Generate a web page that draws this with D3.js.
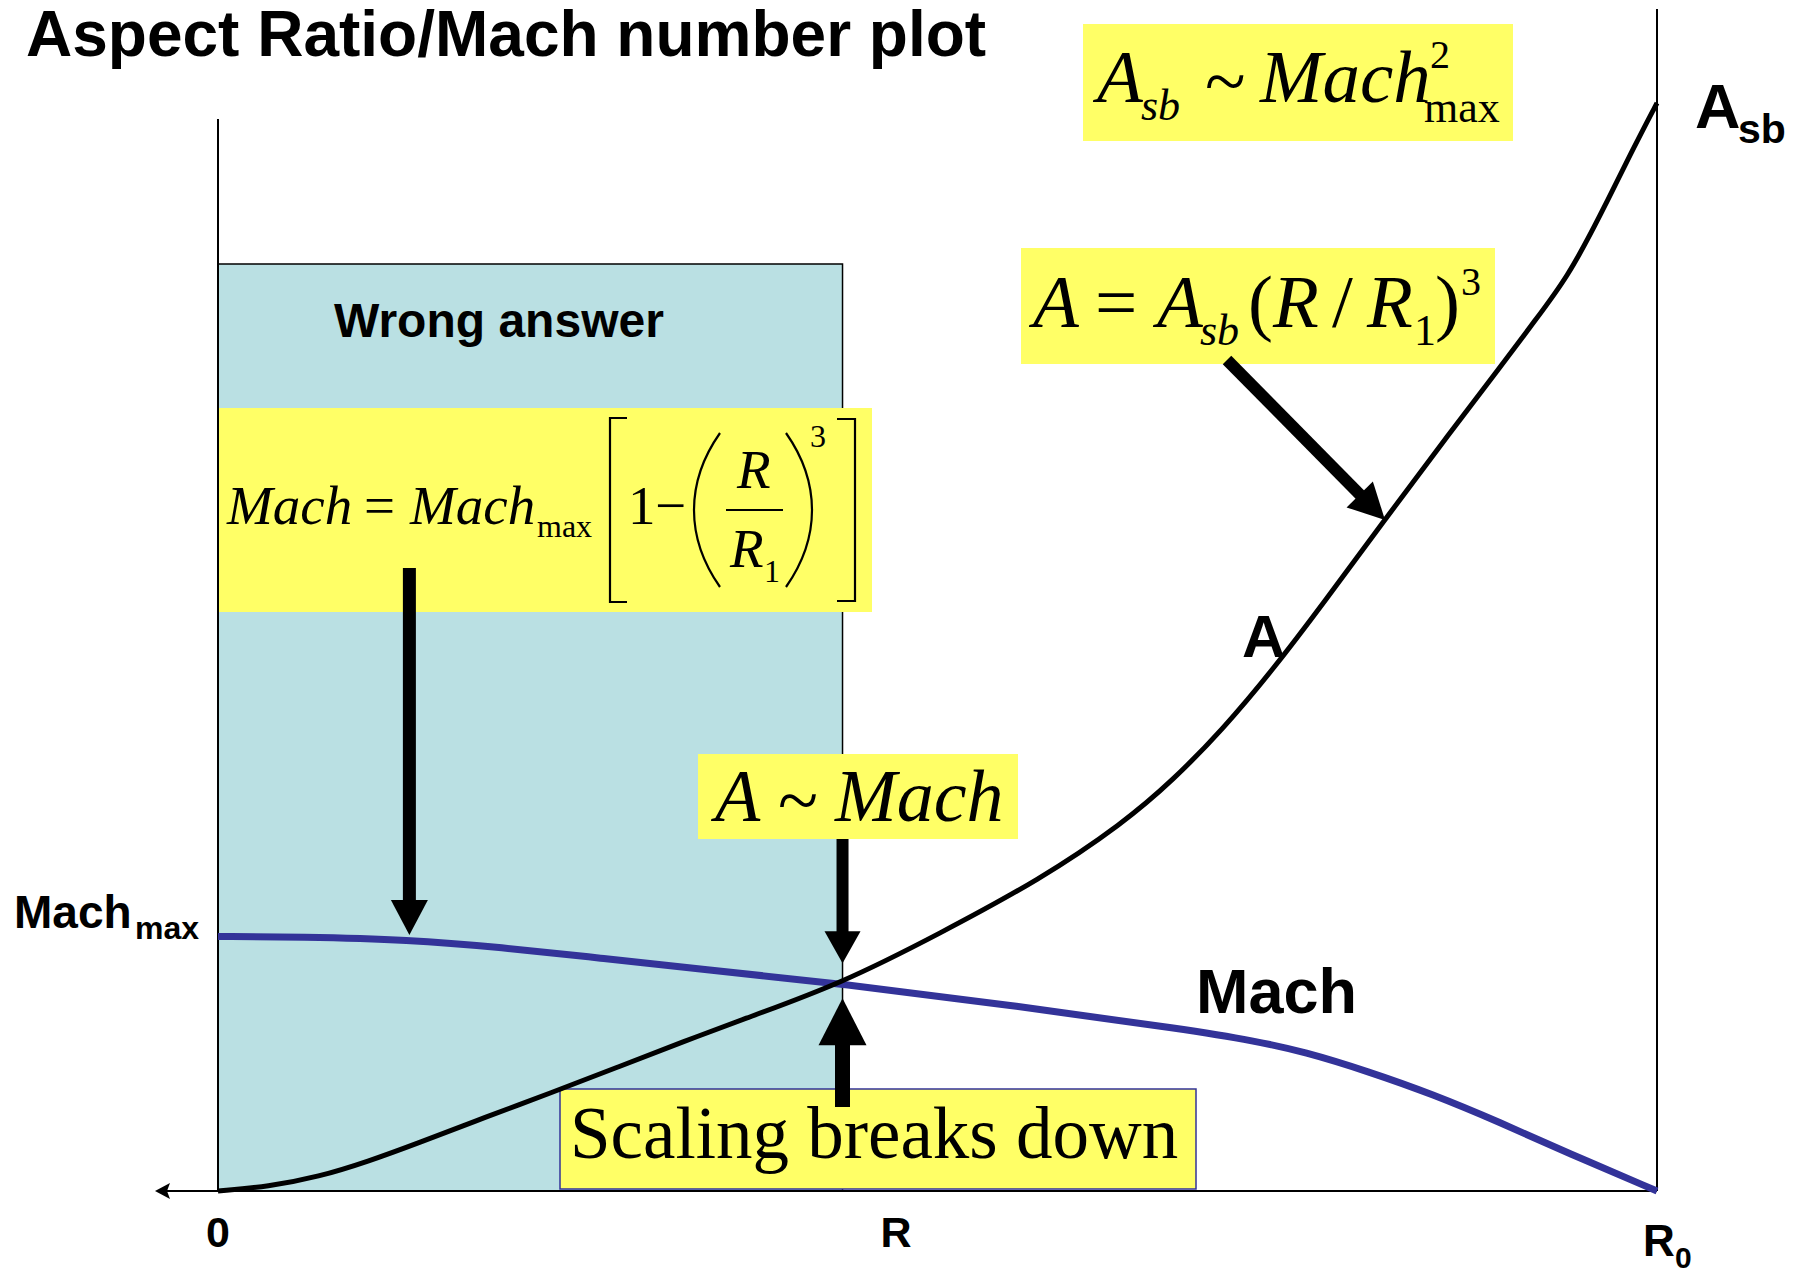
<!DOCTYPE html>
<html>
<head>
<meta charset="utf-8">
<script src="https://cdn.jsdelivr.net/npm/d3@7"></script>
<style>
  html, body { margin: 0; padding: 0; background: #fff; }
  svg { display: block; }
</style>
</head>
<body>
<div id="chart"></div>
<script>
// r / R0 along the horizontal axis, values normalised to A_sb = 1
const aspectR = [0, 0.035, 0.070, 0.104, 0.139, 0.186, 0.231, 0.278, 0.325, 0.361, 0.434, 0.502, 0.571,
                 0.629, 0.664, 0.698, 0.733, 0.768, 0.812, 0.856, 0.891, 0.914, 0.938, 0.960, 0.983, 1.0];
const aspectValues = [0, 0.004, 0.013, 0.027, 0.044, 0.068, 0.090, 0.114, 0.138, 0.156, 0.191, 0.237, 0.286,
                      0.338, 0.378, 0.424, 0.479, 0.540, 0.619, 0.697, 0.757, 0.798, 0.840, 0.895, 0.957, 1.0];

const machR = [0, 0.057, 0.133, 0.196, 0.266, 0.335, 0.434, 0.555, 0.675, 0.720, 0.755, 0.799, 0.844, 0.891, 0.938, 1.0];
const machValues = [0.234, 0.2335, 0.231, 0.224, 0.214, 0.204, 0.1905, 0.170, 0.148, 0.138, 0.128, 0.110, 0.089, 0.063, 0.035, 0];

const rCross = 0.434;           // "R", where scaling breaks down
const tickValues = [0, rCross, 1];
const tickLabels = ["0", "R", "R0"];

const W = 1808, H = 1269;
const SANS = "'Liberation Sans', Arial, sans-serif";
const SERIF = "'Liberation Serif', 'Times New Roman', serif";
const YELLOW = "#ffff66";
const CYAN = "#bae0e3";
const BLUE = "#333399";

const svg = d3.select('#chart').append('svg')
    .attr('width', W)
    .attr('height', H);

const x = d3.scaleLinear().domain([0, 1]).range([218, 1657]);
const y = d3.scaleLinear().domain([0, 1]).range([1191, 103]);

function put(g, px, py, str, size, opts) {
    opts = opts || {};
    return g.append('text')
        .attr('x', px)
        .attr('y', py)
        .attr('font-family', opts.serif ? SERIF : SANS)
        .attr('font-size', size)
        .attr('font-weight', opts.bold ? 'bold' : 'normal')
        .attr('font-style', opts.italic ? 'italic' : 'normal')
        .attr('text-anchor', opts.anchor || 'start')
        .attr('fill', '#000')
        .text(str);
}

function arrow(x1, y1, x2, y2, shaftW, headLen, headW) {
    const dx = x2 - x1, dy = y2 - y1;
    const len = Math.hypot(dx, dy);
    const ux = dx / len, uy = dy / len;
    const bx = x2 - ux * headLen, by = y2 - uy * headLen;
    svg.append('line')
        .attr('x1', x1).attr('y1', y1)
        .attr('x2', bx + ux).attr('y2', by + uy)
        .attr('stroke', '#000')
        .attr('stroke-width', shaftW);
    const px = -uy * headW / 2, py = ux * headW / 2;
    svg.append('polygon')
        .attr('points', [[x2, y2], [bx + px, by + py], [bx - px, by - py]].map(p => p.join(',')).join(' '))
        .attr('fill', '#000');
}

// title
put(svg, 26, 56, 'Aspect Ratio/Mach number plot', 64, {bold: true});

// "wrong answer" region
svg.append('rect')
    .attr('x', x(0))
    .attr('y', 264)
    .attr('width', x(rCross) - x(0))
    .attr('height', y(0) - 264)
    .attr('fill', CYAN)
    .attr('stroke', '#000')
    .attr('stroke-width', 1.5);

put(svg, 334, 337, 'Wrong answer', 48, {bold: true});

// axes
svg.append('line')
    .attr('x1', x(0)).attr('y1', 119)
    .attr('x2', x(0)).attr('y2', y(0))
    .attr('stroke', '#000').attr('stroke-width', 2);
svg.append('line')
    .attr('x1', x(1)).attr('y1', 9)
    .attr('x2', x(1)).attr('y2', y(0))
    .attr('stroke', '#000').attr('stroke-width', 2);

// yellow formula boxes
const boxes = [
    {x: 219, y: 408, w: 653, h: 204},
    {x: 1083, y: 24, w: 430, h: 117},
    {x: 1021, y: 248, w: 474, h: 116},
    {x: 698, y: 754, w: 320, h: 85}
];
svg.selectAll('rect.note')
    .data(boxes)
    .enter().append('rect')
    .attr('class', 'note')
    .attr('x', d => d.x).attr('y', d => d.y)
    .attr('width', d => d.w).attr('height', d => d.h)
    .attr('fill', YELLOW);

// "Scaling breaks down" box
svg.append('rect')
    .attr('x', 560).attr('y', 1089)
    .attr('width', 636).attr('height', 100)
    .attr('fill', YELLOW)
    .attr('stroke', BLUE)
    .attr('stroke-width', 1.5);
put(svg, 570, 1158, 'Scaling breaks down', 73, {serif: true});

// bottom axis with arrow pointing left
svg.append('line')
    .attr('x1', x(1)).attr('y1', y(0))
    .attr('x2', x(0) - 55).attr('y2', y(0))
    .attr('stroke', '#000').attr('stroke-width', 2);
svg.append('polygon')
    .attr('points', `${x(0) - 63},${y(0)} ${x(0) - 48},${y(0) - 8} ${x(0) - 51},${y(0)} ${x(0) - 48},${y(0) + 8}`)
    .attr('fill', '#000');

// curves
const line = d3.line()
    .x(d => x(d[0]))
    .y(d => y(d[1]))
    .curve(d3.curveBasis);

svg.append('path')
    .datum(d3.zip(machR, machValues))
    .attr('d', line)
    .attr('fill', 'none')
    .attr('stroke', BLUE)
    .attr('stroke-width', 7);

svg.append('path')
    .datum(d3.zip(aspectR, aspectValues))
    .attr('d', line)
    .attr('fill', 'none')
    .attr('stroke', '#000')
    .attr('stroke-width', 5);

// Mach = Mach_max [1 - (R/R1)^3]
put(svg, 227, 524, 'Mach', 55, {serif: true, italic: true});
put(svg, 364, 524, '=', 55, {serif: true});
put(svg, 410, 524, 'Mach', 55, {serif: true, italic: true});
put(svg, 537, 537, 'max', 32, {serif: true});
put(svg, 628, 524, '1', 55, {serif: true});
put(svg, 655, 524, '\u2212', 55, {serif: true});
put(svg, 737, 488, 'R', 55, {serif: true, italic: true});
put(svg, 730, 567, 'R', 55, {serif: true, italic: true});
put(svg, 764, 582, '1', 32, {serif: true});
put(svg, 810, 447, '3', 32, {serif: true});
svg.append('line')
    .attr('x1', 726).attr('y1', 510).attr('x2', 783).attr('y2', 510)
    .attr('stroke', '#000').attr('stroke-width', 2);
const bracketPaths = [
    'M627,418 H610 V602 H627',
    'M837,419 H855 V601 H837',
    'M720,433 Q694,470 694,510 Q694,550 720,587',
    'M786,433 Q812,470 812,510 Q812,550 786,587'
];
svg.selectAll('path.bracket')
    .data(bracketPaths)
    .enter().append('path')
    .attr('class', 'bracket')
    .attr('d', d => d)
    .attr('fill', 'none')
    .attr('stroke', '#000')
    .attr('stroke-width', 2.2);

// A_sb ~ Mach_max^2
put(svg, 1097, 102, 'A', 75, {serif: true, italic: true});
put(svg, 1141, 120, 'sb', 44, {serif: true, italic: true});
put(svg, 1205, 106, '~', 75, {serif: true});
put(svg, 1260, 102, 'Mach', 75, {serif: true, italic: true});
put(svg, 1430, 68, '2', 40, {serif: true});
put(svg, 1424, 122, 'max', 44, {serif: true});

// A = A_sb (R / R1)^3
put(svg, 1033, 327, 'A', 75, {serif: true, italic: true});
put(svg, 1095, 327, '=', 75, {serif: true});
put(svg, 1157, 327, 'A', 75, {serif: true, italic: true});
put(svg, 1200, 345, 'sb', 44, {serif: true, italic: true});
put(svg, 1248, 327, '(', 75, {serif: true});
put(svg, 1273, 327, 'R', 75, {serif: true, italic: true});
put(svg, 1332, 327, '/', 75, {serif: true});
put(svg, 1367, 327, 'R', 75, {serif: true, italic: true});
put(svg, 1414, 345, '1', 44, {serif: true});
put(svg, 1435, 327, ')', 75, {serif: true});
put(svg, 1461, 295, '3', 40, {serif: true});

// A ~ Mach
put(svg, 715, 821, 'A', 74, {serif: true, italic: true});
put(svg, 778, 825, '~', 74, {serif: true});
put(svg, 835, 821, 'Mach', 74, {serif: true, italic: true});

// arrows
const crossY = y(0.190);
arrow(x(0.133), 568, x(0.133), 935, 13, 35, 37);
arrow(x(rCross), 839, x(rCross), crossY - 21, 12, 32, 36);
arrow(x(rCross), 1107, x(rCross), crossY + 14, 15, 47, 48);
arrow(1227, 360, 1385, 520, 12, 36, 37);

// curve and axis labels
put(svg, 14, 928, 'Mach', 46, {bold: true});
put(svg, 135, 939, 'max', 32, {bold: true});
put(svg, 1695, 128, 'A', 63, {bold: true});
put(svg, 1738, 143, 'sb', 41, {bold: true});
put(svg, 1196, 1013, 'Mach', 63, {bold: true});
put(svg, 1242, 657, 'A', 60, {bold: true});

put(svg, x(tickValues[0]), 1247, tickLabels[0], 43, {bold: true, anchor: 'middle'});
put(svg, x(tickValues[1]) + 38, 1247, tickLabels[1], 43, {bold: true});
put(svg, x(tickValues[2]) - 14, 1256, tickLabels[2].charAt(0), 44, {bold: true});
put(svg, x(tickValues[2]) + 18, 1268, tickLabels[2].slice(1), 30, {bold: true});
</script>
</body>
</html>
